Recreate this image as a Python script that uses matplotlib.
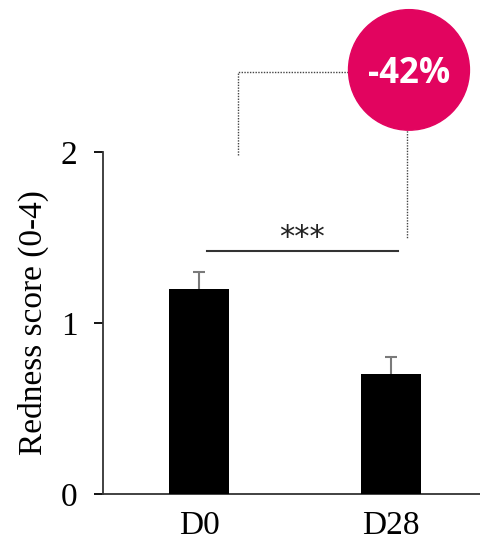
import matplotlib.pyplot as plt
from matplotlib.patches import Ellipse

days = ["D0", "D28"]
redness = [1.2, 0.7]
err = [0.1, 0.1]
change_label = "-42%"

plt.rcParams['font.family'] = ['Liberation Serif', 'DejaVu Serif']

fig = plt.figure(figsize=(4.8, 5.45), dpi=100)
ax = fig.add_axes([103/480, 51/545, 1 - 103/480, (494-152)/545])

x = range(len(days))
ax.bar(x, redness, width=0.3125, color='black', zorder=3)
_, caps, _ = ax.errorbar(x, redness, yerr=[[0, 0], err], fmt='none',
                         ecolor='#7a7a7a', elinewidth=1.5, capsize=4,
                         capthick=1.5, zorder=1)
caps[0].set_visible(False)

ax.set_xlim(-0.5, 1.464)
ax.set_ylim(0, 2)
ax.set_yticks([0, 1, 2])
ax.set_xticks(list(x))
ax.set_xticklabels(days)
ax.tick_params(axis='y', labelsize=24, length=6.5, width=1.3, pad=12)
ax.tick_params(axis='x', labelsize=24, length=0, pad=12)
ax.set_ylabel("Redness score (0-4)", fontsize=24, labelpad=8)
for s in ['top', 'right']:
    ax.spines[s].set_visible(False)
for s in ['left', 'bottom']:
    ax.spines[s].set_linewidth(1.3)
    ax.spines[s].set_color('#333333')

# significance bar
ax.plot([0.042, 1.036], [1.42, 1.42], color='#333333', lw=1.5, clip_on=False)
ax.text(0.535, 1.50, "***", ha='center', va='center', fontsize=22,
        family=['DejaVu Sans'], color='#222222')

# dotted bracket to the change badge
ax.plot([0.203, 0.203, 0.9], [1.98, 2.47, 2.47], color='#444444', lw=1,
        ls=(0, (1, 1)), clip_on=False)
ax.plot([1.083, 1.083], [2.14, 1.50], color='#444444', lw=1,
        ls=(0, (1, 1)), clip_on=False)

badge = Ellipse((1.094, 2.48), 0.63, 0.705, color='#e2045f', clip_on=False,
                zorder=5)
ax.add_patch(badge)
ax.text(1.094, 2.455, change_label, ha='center', va='center', color='white',
        fontsize=25, fontweight='bold', family=['Open Sans', 'DejaVu Sans'],
        zorder=6)

fig.savefig("out.png", dpi=100)
